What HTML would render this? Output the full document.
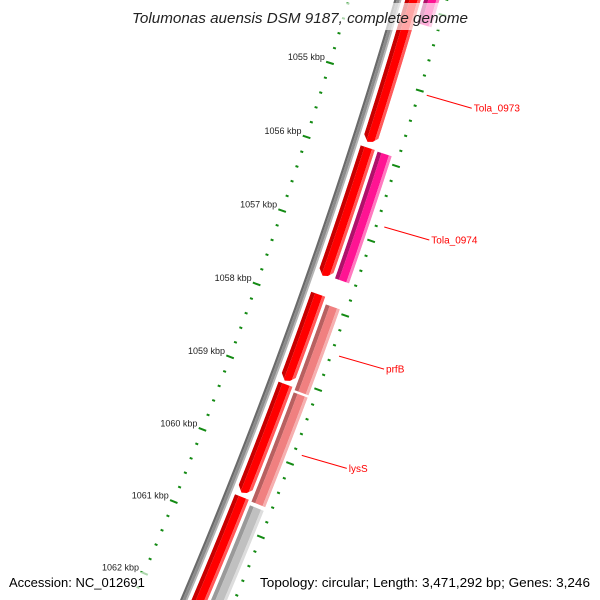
<!DOCTYPE html>
<html><head><meta charset="utf-8"><style>
html,body{margin:0;padding:0;background:#fff;width:600px;height:600px;overflow:hidden}
svg{display:block;overflow:hidden}
text{font-family:"Liberation Sans",sans-serif}
</style></head><body>
<svg id="map" width="600" height="600" viewBox="0 0 600 600" xmlns="http://www.w3.org/2000/svg">
<g id="back"></g>
<g id="feat"></g>
<g id="ticks"></g>
<g id="labels"></g>
<rect x="129" y="3" width="342" height="27" fill="#fff" fill-opacity="0.65"/>
<text x="300" y="23" text-anchor="middle" font-size="15" font-style="italic" fill="#222" textLength="336" lengthAdjust="spacingAndGlyphs">Tolumonas auensis DSM 9187, complete genome</text>
<rect x="6" y="572" width="142" height="18" fill="#fff" fill-opacity="0.65"/>
<text x="9" y="587" font-size="13" fill="#000">Accession: NC_012691</text>
<rect x="257" y="572" width="336" height="18" fill="#fff" fill-opacity="0.65"/>
<text x="590" y="587" font-size="13" fill="#000" text-anchor="end" textLength="330" lengthAdjust="spacingAndGlyphs">Topology: circular; Length: 3,471,292 bp; Genes: 3,246</text>
</svg>
<script>
// data
const featStart = [1053.0, 1055.89, 1057.86, 1059.08, 1060.62, 1053.0, 1055.90, 1057.95, 1059.14, 1060.68];
const featEnd   = [1055.82, 1057.62, 1059.04, 1060.57, 1063.2, 1054.19, 1057.60, 1059.11, 1060.63, 1063.2];
const featRing  = [1, 1, 1, 1, 1, 2, 2, 2, 2, 2];
const featColor = ['red','red','red','red','red','pink','pink','coral','coral','gray'];
const featName  = ['feature-1','feature-2','feature-3','feature-4','feature-5','tola-0973','tola-0974','prfB','lysS','feature-gray'];
const majorTicks = [1055, 1056, 1057, 1058, 1059, 1060, 1061, 1062];
const tickLabels = ['1055 kbp','1056 kbp','1057 kbp','1058 kbp','1059 kbp','1060 kbp','1061 kbp','1062 kbp'];
const labelText = ['Tola_0973','Tola_0974','prfB','lysS'];
const labelKbp  = [1055.03, 1056.78, 1058.51, 1059.85];

const NS='http://www.w3.org/2000/svg';
const CX=-4790, CY=-1513, R0=5404, A0=0.2986, AK=0.01449;
function ang(k){return A0+(k-1055)*AK;}
function pt(k,r){const a=ang(k);return [CX+r*Math.cos(a), CY+r*Math.sin(a)];}
function el(tag,attrs,parent){const e=document.createElementNS(NS,tag);for(const k in attrs)e.setAttribute(k,attrs[k]);parent.appendChild(e);return e;}
function bandPts(k1,k2,r1,r2){
  const p=[];const n=40;
  for(let i=0;i<=n;i++)p.push(pt(k1+(k2-k1)*i/n,r2));
  for(let i=n;i>=0;i--)p.push(pt(k1+(k2-k1)*i/n,r1));
  return p.map(q=>q[0].toFixed(2)+','+q[1].toFixed(2)).join(' ');
}
const shades={
  red:['#c80000','#ff0000','#ff5a5a'],
  pink:['#b0106a','#ff1493','#ff7ac0'],
  coral:['#b86060','#f08080','#f6b0b0'],
  gray:['#9a9a9a','#c0c0c0','#dddddd']
};
// backbone
const back=document.getElementById('back');
const bb=[[-3.5,-1.2,'#6a6a6a'],[-1.2,1.8,'#8c8c8c'],[1.8,3.5,'#b4b4b4']];
bb.forEach(b=>{
  const p=el('polygon',{points:bandPts(1052.5,1063.2,R0+b[0],R0+b[1]),fill:b[2]},back);
  
  
});
// features
const feat=document.getElementById('feat');
const defs=el('defs',{},document.getElementById('map'));
for(let i=0;i<featStart.length;i++){
  const r1 = featRing[i]===1 ? R0+7 : R0+25;
  const r2 = r1+15;
  const k1=featStart[i], k2=featEnd[i];
  let shape;
  if(featRing[i]===1){
    const ah=0.08;const rm=(r1+r2)/2;
    const pts=[];const n=40;
    for(let j=0;j<=n;j++)pts.push(pt(k1+(k2-ah-k1)*j/n,r2));
    pts.push(pt(k2-0.02,rm+3));pts.push(pt(k2,rm-2));
    for(let j=n;j>=0;j--)pts.push(pt(k1+(k2-ah-k1)*j/n,r1));
    shape=pts.map(q=>q[0].toFixed(2)+','+q[1].toFixed(2)).join(' ');
  } else shape=bandPts(k1,k2,r1,r2);
  const cp=el('clipPath',{id:'cp'+i},defs);
  el('polygon',{points:shape},cp);
  const g=el('g',{'clip-path':'url(#cp'+i+')'},feat);
  
  
  const s=shades[featColor[i]];const w=r2-r1;
  const parts=[[0,0.28,s[0]],[0.28,0.8,s[1]],[0.8,1.0,s[2]]];
  parts.forEach(pp=>{
    const b=el('polygon',{points:bandPts(k1-0.1,k2+0.1,r1+w*pp[0],r1+w*pp[1]),fill:pp[2]},g);
    
    
  });
}
// ruler ticks
const tg=document.getElementById('ticks');
const RL=R0-47, RR=R0+47;
for(let k=1053;k<=1063.001;k+=0.2){
  const kk=Math.round(k*10)/10;
  const major=Math.abs(kk-Math.round(kk))<0.01;
  const len=major?4:1.5;
  [RL,RR].forEach(r=>{
    const a=pt(kk,r-len),b=pt(kk,r+len);
    const l=el('line',{x1:a[0],y1:a[1],x2:b[0],y2:b[1],stroke:'#138a13','stroke-width':2},tg);
    
    
  });
}
majorTicks.forEach((k,i)=>{
  const p=pt(k,RL);
  const t=el('text',{x:p[0]-5,y:p[1]-3,'text-anchor':'end','font-size':9,fill:'#222'},tg);
  t.textContent=tickLabels[i];
  
  
});
// feature labels
const lg=document.getElementById('labels');
labelText.forEach((txt,i)=>{
  const a=pt(labelKbp[i],RR+8);
  const bx=a[0]+45, by=a[1]+13;
  const l=el('line',{x1:a[0],y1:a[1],x2:bx,y2:by,stroke:'#ff0000','stroke-width':1},lg);
  
  
  const t=el('text',{x:bx+2,y:by+3.5,'font-size':10,fill:'#ff0000'},lg);
  t.textContent=txt;
  
  
});
</script>
</body></html>
